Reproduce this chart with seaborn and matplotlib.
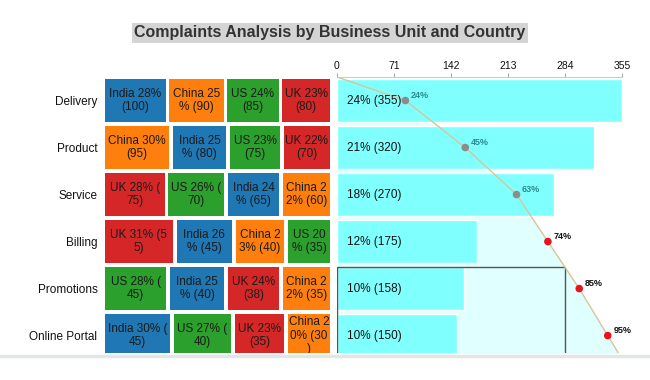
import seaborn as sns
import matplotlib.pyplot as plt
import pandas as pd
import numpy as np
from matplotlib.patches import Rectangle

units = ['Delivery', 'Product', 'Service', 'Billing', 'Promotions', 'Online Portal']
unit_totals = [355, 320, 270, 175, 158, 150]
unit_share = [24, 21, 18, 12, 10, 10]
cum_share = [24, 45, 63, 74, 85, 95]
axis_ticks = [0, 71, 142, 213, 284, 355]

block_countries = [
    ['India', 'China', 'US', 'UK'],
    ['China', 'India', 'US', 'UK'],
    ['UK', 'US', 'India', 'China'],
    ['UK', 'India', 'China', 'US'],
    ['US', 'India', 'UK', 'China'],
    ['India', 'US', 'UK', 'China'],
]
block_values = [
    [100, 90, 85, 80],
    [95, 80, 75, 70],
    [75, 70, 65, 60],
    [55, 45, 40, 35],
    [45, 40, 38, 35],
    [45, 40, 35, 30],
]
# labels wrapped the way the original tool broke them
block_labels = [
    ['India 28%\n(100)', 'China 25\n% (90)', 'US 24%\n(85)', 'UK 23%\n(80)'],
    ['China 30%\n(95)', 'India 25\n% (80)', 'US 23%\n(75)', 'UK 22%\n(70)'],
    ['UK 28% (\n75)', 'US 26% (\n70)', 'India 24\n% (65)', 'China 2\n2% (60)'],
    ['UK 31% (5\n5)', 'India 26\n% (45)', 'China 2\n3% (40)', 'US 20\n% (35)'],
    ['US 28% (\n45)', 'India 25\n% (40)', 'UK 24%\n(38)', 'China 2\n2% (35)'],
    ['India 30% (\n45)', 'US 27% (\n40)', 'UK 23%\n(35)', 'China 2\n0% (30\n)'],
]

country_colors = {'India': '#1f77b4', 'China': '#ff7f0e', 'US': '#2ca02c', 'UK': '#d62728'}

sns.set_style("white")
plt.rcParams['font.family'] = ['Liberation Sans', 'DejaVu Sans']

fig = plt.figure(figsize=(6.5, 3.8), dpi=100)
W, H = 650, 380
top_px, bot_px = 77, 353
ylims = (5.37, -0.5)
bar_h = 0.91

ax_l = fig.add_axes([103 / W, 1 - bot_px / H, 229 / W, (bot_px - top_px) / H])
ax_r = fig.add_axes([337 / W, 1 - bot_px / H, 285 / W, (bot_px - top_px) / H])

# left panel: country blocks per business unit
gap = 0.016
for i, (countries, vals, labs) in enumerate(zip(block_countries, block_values, block_labels)):
    total = sum(vals)
    start = 0
    for c, v, lab in zip(countries, vals, labs):
        frac = v / total
        ax_l.barh(i, frac - gap, left=start + gap / 2, height=bar_h,
                  color=country_colors[c], edgecolor='none')
        ax_l.text(start + frac / 2, i, lab, ha='center', va='center',
                  fontsize=8.5, color='#1a1a1a', linespacing=1.15, clip_on=True)
        start += frac

ax_l.set_xlim(0, 1)
ax_l.set_ylim(*ylims)
ax_l.set_yticks(range(len(units)))
ax_l.set_yticklabels(units, fontsize=8.5, color='#111111')
ax_l.tick_params(axis='y', length=0, pad=4)
ax_l.set_xticks([])
sns.despine(ax=ax_l, left=True, bottom=True)

# right panel: totals with cumulative pareto line
scale = axis_ticks[-1] / 100
rows = list(range(len(units)))
line_x = [0] + [c * scale for c in cum_share] + [100 * scale]
line_y = [-0.5] + rows + [len(units) - 0.5]

ax_r.fill_betweenx(line_y, 0, line_x, color='#e0ffff', zorder=0, linewidth=0)

df = pd.DataFrame({'unit': units, 'total': unit_totals})
sns.barplot(data=df, x='total', y='unit', orient='h', color='#80ffff',
            saturation=1, width=bar_h, ax=ax_r, zorder=1)

for i, (v, s) in enumerate(zip(unit_totals, unit_share)):
    ax_r.text(12, i, f"{s}% ({v})", ha='left', va='center', fontsize=8.5,
              color='#111111', zorder=4)

ax_r.add_patch(Rectangle((0, 3.545), 284, 3, fill=False, edgecolor='#555555',
                         linewidth=1, zorder=2))

sns.lineplot(x=line_x, y=line_y, sort=False, estimator=None, ax=ax_r,
             color='#d8c49a', linewidth=1, zorder=3)

pts = pd.DataFrame({'x': [c * scale for c in cum_share], 'y': rows,
                    'grp': ['a'] * 3 + ['b'] * 3})
sns.scatterplot(data=pts, x='x', y='y', hue='grp',
                palette={'a': '#8c8c8c', 'b': '#e8141a'}, s=30,
                edgecolor='none', legend=False, ax=ax_r, zorder=5)
for i, c in enumerate(cum_share):
    ax_r.annotate(f"{c}%", (c * scale, i), xytext=(4, 2), textcoords='offset points',
                  fontsize=6.5, fontweight='bold',
                  color='#2a8c8c' if i < 3 else '#111111', zorder=6)

ax_r.set_xlim(0, axis_ticks[-1])
ax_r.set_ylim(*ylims)
ax_r.set_xticks(axis_ticks)
ax_r.xaxis.tick_top()
ax_r.tick_params(axis='x', labelsize=7.5, length=3, pad=1, color='#aaaaaa',
                 labelcolor='#111111', top=True, bottom=False)
ax_r.set_yticks([])
ax_r.set_xlabel('')
ax_r.set_ylabel('')
for side in ['right', 'bottom', 'left']:
    ax_r.spines[side].set_visible(False)
ax_r.spines['top'].set_color('#cccccc')
ax_r.spines['top'].set_linewidth(0.8)

fig.text(330 / W, 1 - 33 / H, 'Complaints Analysis by Business Unit and Country',
         ha='center', va='center', fontsize=11.5, fontweight='bold', color='#333333',
         bbox=dict(facecolor='#d4d4d4', edgecolor='none', pad=1.5))

fig.add_artist(plt.Line2D([0, 1], [1 - 356 / H] * 2, color='#e2e6e6', linewidth=2.5,
                          transform=fig.transFigure))

fig.savefig('out.png', dpi=100)
